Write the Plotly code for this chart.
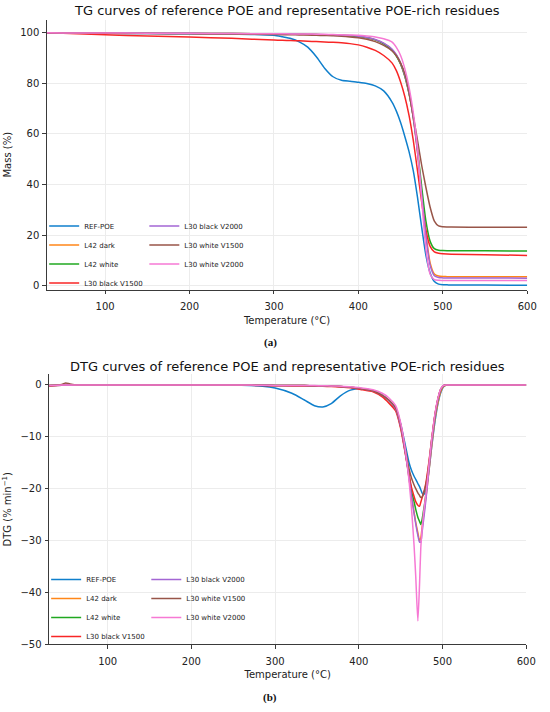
import plotly.graph_objects as go

# =====================================================
# DATA
# =====================================================

names = ["REF-POE", "L42 dark", "L42 white", "L30 black V1500",
         "L30 black V2000", "L30 white V1500", "L30 white V2000"]
colors = ["#0f7fcc", "#ff8618", "#20a820", "#f82626",
          "#a366d4", "#985548", "#f679d4"]

# --- TG: mass (%) vs temperature (°C)
tg_temp = [30, 50, 100, 150, 200, 250, 300, 310, 320, 330, 340, 350, 360, 370, 380, 390,
           400, 410, 420, 430, 440, 445, 450, 455, 460, 465, 470, 475, 480, 485, 490,
           495, 500, 505, 510, 550, 600]

tg_ref_poe = [100, 99.95, 99.8, 99.7, 99.6, 99.5, 99.0, 98.4, 97.7, 96.4, 94.3, 90.6, 86.0, 82.6, 81.2, 80.8,
              80.4, 79.9, 79.0, 77.0, 72.5, 69.0, 64.5, 59.0, 53.0, 45.5, 35.0, 23.0, 12.0, 5.0, 1.6,
              0.6, 0.35, 0.3, 0.25, 0.2, 0.15]
tg_l42_dark = [100, 99.95, 99.9, 99.85, 99.8, 99.7, 99.55, 99.5, 99.45, 99.4, 99.35, 99.3, 99.2, 99.1, 99.0, 98.8,
               98.5, 98.0, 97.2, 95.8, 93.3, 91.0, 87.8, 83.0, 76.0, 66.3, 53.0, 36.5, 20.5, 9.0, 4.6,
               3.8, 3.6, 3.55, 3.5, 3.5, 3.5]
tg_l42_white = [100, 99.95, 99.9, 99.85, 99.8, 99.7, 99.55, 99.5, 99.45, 99.4, 99.35, 99.3, 99.2, 99.1, 99.0, 98.8,
                98.5, 98.0, 97.2, 95.6, 93.0, 90.8, 87.6, 82.8, 76.0, 66.8, 54.0, 39.0, 25.5, 17.5, 14.6,
                14.0, 13.85, 13.8, 13.8, 13.75, 13.7]
tg_l30_black_v1500 = [100, 99.85, 99.2, 98.7, 98.3, 97.8, 97.1, 97.0, 96.9, 96.8, 96.65, 96.5, 96.35, 96.2, 96.0, 95.7,
                      95.2, 94.3, 93.0, 91.0, 88.0, 85.0, 80.5, 74.8, 67.3, 57.5, 45.5, 33.0, 22.0, 15.5, 13.3,
                      12.8, 12.6, 12.5, 12.45, 12.2, 11.95]
tg_l30_black_v2000 = [100, 99.95, 99.9, 99.85, 99.8, 99.7, 99.6, 99.55, 99.5, 99.45, 99.4, 99.35, 99.25, 99.15, 99.05, 98.9,
                      98.6, 98.1, 97.3, 95.9, 93.5, 91.3, 88.0, 83.2, 76.2, 66.3, 52.8, 35.8, 19.5, 8.0, 3.9,
                      3.2, 3.05, 3.0, 3.0, 3.0, 2.95]
tg_l30_white_v1500 = [100, 99.9, 99.8, 99.7, 99.6, 99.5, 99.3, 99.25, 99.2, 99.15, 99.1, 99.0, 98.9, 98.8, 98.6, 98.35,
                      98.0, 97.4, 96.5, 95.0, 92.8, 90.9, 88.0, 83.8, 76.5, 67.0, 57.5, 47.5, 38.8, 31.0, 25.5,
                      23.6, 23.3, 23.2, 23.15, 23.1, 23.05]
tg_l30_white_v2000 = [100, 99.95, 99.9, 99.85, 99.8, 99.7, 99.6, 99.58, 99.55, 99.52, 99.5, 99.45, 99.4, 99.3, 99.2, 99.1,
                      99.0, 98.7, 98.3, 97.6, 96.3, 94.2, 91.0, 85.8, 78.5, 68.5, 54.5, 34.0, 14.5, 4.5, 2.4,
                      2.1, 2.05, 2.0, 2.0, 2.0, 2.0]

# --- DTG: % min^-1 vs temperature (°C)
dtg_temp = [30, 45, 50, 55, 65, 100, 200, 260, 285, 300,
            320, 335, 347, 357, 367, 378, 390, 402, 417, 428,
            436, 444, 450, 456, 460, 463, 466, 468, 470.5, 472.5,
            474, 475.5, 477, 479, 481, 484, 487, 491, 495, 498,
            501, 504, 510, 550, 600]

dtg_ref_poe = [-0.15, -0.05, 0, 0, 0, 0, 0, -0.05, -0.25, -0.6,
               -1.6, -2.9, -4.0, -4.25, -3.6, -2.1, -1.0, -0.7, -1.1, -1.9,
               -3.0, -4.4, -7.5, -12.0, -15.0, -16.5, -17.6, -18.2, -19.0, -19.6,
               -20.2, -20.8, -21.2, -20.8, -19.5, -16.2, -12.0, -7.0, -3.2, -1.4,
               -0.4, -0.05, 0, 0, 0]
dtg_l42_dark = [-0.1, 0, 0, 0, 0, 0, 0, 0, -0.05, -0.08,
                -0.1, -0.12, -0.15, -0.18, -0.22, -0.3, -0.45, -0.7, -1.1, -2.0,
                -3.0, -4.6, -8.0, -13.5, -18.0, -21.5, -24.5, -26.5, -28.5, -30.0,
                -29.5, -27.5, -25.5, -23.0, -20.5, -16.3, -11.8, -6.5, -3.0, -1.2,
                -0.3, -0.05, 0, 0, 0]
dtg_l42_white = [-0.1, 0, 0, 0, 0, 0, 0, 0, -0.05, -0.08,
                 -0.1, -0.12, -0.15, -0.18, -0.22, -0.3, -0.45, -0.7, -1.1, -2.0,
                 -3.0, -4.6, -8.0, -13.3, -17.5, -20.5, -22.5, -24.0, -25.5, -26.3,
                 -26.9, -26.0, -24.5, -22.5, -19.8, -15.3, -10.8, -5.8, -2.4, -0.8,
                 -0.15, 0, 0, 0, 0]
dtg_l30_black_v1500 = [-0.2, -0.05, 0, 0, 0, 0, -0.02, -0.05, -0.1, -0.15,
                       -0.18, -0.2, -0.22, -0.25, -0.3, -0.4, -0.55, -0.85, -1.3, -2.3,
                       -3.5, -5.0, -8.4, -13.7, -17.3, -19.8, -21.5, -22.5, -23.2, -23.4,
                       -22.6, -21.8, -21.0, -19.8, -18.0, -14.5, -10.5, -5.6, -2.3, -0.8,
                       -0.15, 0, 0, 0, 0]
dtg_l30_black_v2000 = [-0.1, 0, 0, 0, 0, 0, 0, 0, -0.05, -0.08,
                       -0.1, -0.12, -0.15, -0.18, -0.22, -0.3, -0.45, -0.7, -1.1, -2.0,
                       -3.0, -4.6, -8.0, -13.5, -18.0, -21.5, -24.8, -26.8, -29.0, -30.3,
                       -30.3, -28.5, -26.5, -23.8, -20.8, -16.0, -11.3, -6.0, -2.5, -0.8,
                       -0.15, 0, 0, 0, 0]
dtg_l30_white_v1500 = [-0.1, 0.1, 0.4, 0.2, 0, 0, 0, 0, -0.05, -0.08,
                       -0.1, -0.12, -0.15, -0.18, -0.22, -0.3, -0.45, -0.7, -1.1, -2.0,
                       -2.9, -4.4, -7.6, -12.8, -16.2, -18.0, -19.3, -20.0, -20.8, -21.3,
                       -21.7, -21.6, -21.0, -20.0, -18.5, -14.8, -10.6, -5.8, -2.4, -0.8,
                       -0.15, 0, 0, 0, 0]
dtg_l30_white_v2000 = [-0.1, 0, 0, 0, 0, 0, 0, 0, -0.05, -0.08,
                       -0.08, -0.1, -0.12, -0.15, -0.18, -0.25, -0.35, -0.55, -0.9, -1.6,
                       -2.5, -4.0, -7.3, -13.0, -18.5, -24.0, -31.0, -37.0, -45.5, -38.5,
                       -31.5, -28.0, -25.2, -22.5, -19.8, -15.0, -10.5, -5.5, -2.2, -0.7,
                       -0.1, 0, 0, 0, 0]

temp_ticks = [100, 200, 300, 400, 500, 600]
mass_ticks = [0, 20, 40, 60, 80, 100]
dtg_ticks = [0, -10, -20, -30, -40, -50]

tg_series = [tg_ref_poe, tg_l42_dark, tg_l42_white, tg_l30_black_v1500,
             tg_l30_black_v2000, tg_l30_white_v1500, tg_l30_white_v2000]
dtg_series = [dtg_ref_poe, dtg_l42_dark, dtg_l42_white, dtg_l30_black_v1500,
              dtg_l30_black_v2000, dtg_l30_white_v1500, dtg_l30_white_v2000]


# =====================================================
# FIGURE
# =====================================================

W, H = 550, 712
FONT = "DejaVu Sans"


def px_x(px):
    return px / W


def px_y(py):
    return 1 - py / H


fig = go.Figure()

for i, (name, color) in enumerate(zip(names, colors)):
    # matplotlib-style ncol=2 legend: first four in column one
    top_leg = "legend" if i < 4 else "legend2"
    bot_leg = "legend3" if i < 4 else "legend4"

    fig.add_trace(
        go.Scatter(
            x=tg_temp, y=tg_series[i], name=name, mode="lines",
            line=dict(color=color, width=1.5, shape="spline", smoothing=0.6),
            xaxis="x", yaxis="y", legend=top_leg
        )
    )
    fig.add_trace(
        go.Scatter(
            x=dtg_temp, y=dtg_series[i], name=name, mode="lines",
            line=dict(color=color, width=1.5, shape="spline", smoothing=0.6),
            xaxis="x2", yaxis="y2", legend=bot_leg
        )
    )

# -------------------------------------------------
# Axes
# -------------------------------------------------

axis_common = dict(
    showline=True, linecolor="#3a3a3a", linewidth=1.1,
    ticks="outside", ticklen=3.5, tickwidth=1, tickcolor="#3a3a3a",
    showgrid=True, gridcolor="#ececec", gridwidth=0.8,
    zeroline=False, tickfont=dict(family=FONT, size=10, color="#222"),
)
title_font = dict(family=FONT, size=10, color="#222")

fig.update_layout(
    xaxis=dict(domain=[px_x(47.7), px_x(537)], range=[31, 600], tickvals=temp_ticks,
               anchor="y", ticklabelstandoff=4,
               title=dict(text="Temperature (°C)", font=title_font, standoff=5),
               **axis_common),
    yaxis=dict(domain=[px_y(291.7), px_y(20)], range=[-1.6, 105.1], tickvals=mass_ticks,
               anchor="x", ticklabelstandoff=1,
               title=dict(text="Mass (%)", font=title_font, standoff=6),
               **axis_common),
    xaxis2=dict(domain=[px_x(50), px_x(536)], range=[30, 600], tickvals=temp_ticks,
                anchor="y2", ticklabelstandoff=4,
                title=dict(text="Temperature (°C)", font=title_font, standoff=5),
                **axis_common),
    yaxis2=dict(domain=[px_y(648.8), px_y(377)], range=[-50, 2.05], tickvals=dtg_ticks,
                anchor="x2", ticklabelstandoff=1,
                title=dict(text="DTG (% min<sup>−1</sup>)", font=title_font, standoff=6),
                **axis_common),
)

# -------------------------------------------------
# Legends (two columns per panel)
# -------------------------------------------------

legend_common = dict(
    bgcolor="rgba(0,0,0,0)", borderwidth=0, tracegroupgap=0,
    font=dict(family=FONT, size=7, color="#222"),
    xanchor="left", yanchor="top", orientation="v",
)

fig.update_layout(
    legend=dict(x=px_x(45), y=px_y(213), **legend_common),
    legend2=dict(x=px_x(147), y=px_y(213), **legend_common),
    legend3=dict(x=px_x(47), y=px_y(569), **legend_common),
    legend4=dict(x=px_x(149), y=px_y(569), **legend_common),
)

# -------------------------------------------------
# Titles and captions
# -------------------------------------------------

panel_titles = [
    ("TG curves of reference POE and representative POE-rich residues", 292, 11),
    ("DTG curves of reference POE and representative POE-rich residues", 293, 369),
]
for text, cx, cy in panel_titles:
    fig.add_annotation(text=text, xref="paper", yref="paper", x=px_x(cx), y=px_y(cy),
                       xanchor="center", yanchor="middle", showarrow=False,
                       font=dict(family=FONT, size=13, color="#111"))

for text, cy in [("<b>(a)</b>", 345), ("<b>(b)</b>", 702)]:
    fig.add_annotation(text=text, xref="paper", yref="paper", x=px_x(275), y=px_y(cy),
                       xanchor="center", yanchor="middle", showarrow=False,
                       font=dict(family="Liberation Serif", size=11, color="#111"))

fig.update_layout(
    width=W, height=H,
    margin=dict(l=0, r=0, t=0, b=0),
    paper_bgcolor="white", plot_bgcolor="white",
    font=dict(family=FONT, color="#222"),
)

# drop the page's default body margin so the figure fills the window exactly
fig.write_html("out.html", config={"displayModeBar": False},
               post_script="document.body.style.margin='0';")
